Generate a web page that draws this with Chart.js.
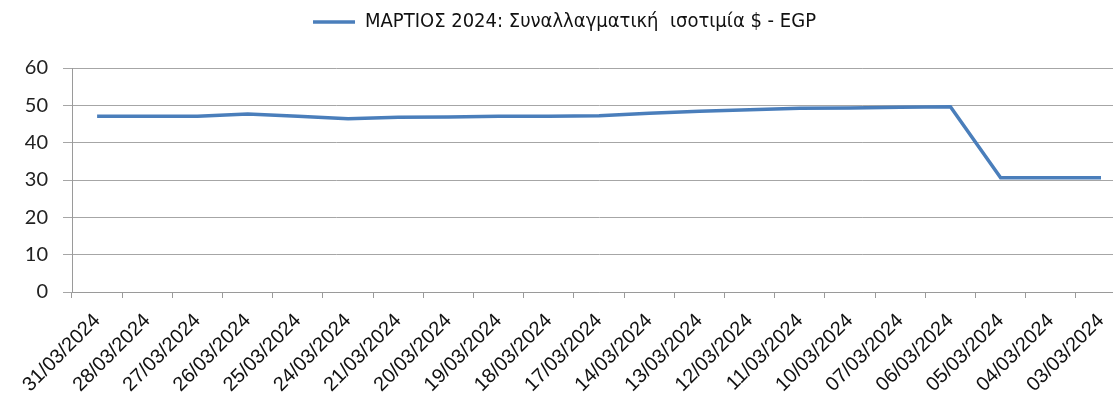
<!DOCTYPE html>
<html>
<head>
<meta charset="utf-8">
<script src="https://cdn.jsdelivr.net/npm/chart.js@4"></script>
<style>
  html, body { margin: 0; padding: 0; background: #fff; overflow: hidden; }
  #wrap { position: relative; width: 1129px; height: 404px; }
</style>
</head>
<body>
<div id="wrap"><canvas id="rate-chart"></canvas></div>
<script>
const SERIES_LABEL = 'ΜΑΡΤΙΟΣ 2024: Συναλλαγματική  ισοτιμία $ - EGP';

const dates = [
  '31/03/2024','28/03/2024','27/03/2024','26/03/2024','25/03/2024','24/03/2024','21/03/2024',
  '20/03/2024','19/03/2024','18/03/2024','17/03/2024','14/03/2024','13/03/2024','12/03/2024',
  '11/03/2024','10/03/2024','07/03/2024','06/03/2024','05/03/2024','04/03/2024','03/03/2024'
];

const rates = [
  47.1, 47.1, 47.1, 47.7, 47.1, 46.4, 46.8,
  46.9, 47.1, 47.1, 47.2, 47.9, 48.4, 48.8,
  49.2, 49.3, 49.5, 49.6, 30.6, 30.6, 30.6
];

const yTicks = [0, 10, 20, 30, 40, 50, 60];

const LINE_BLUE = '#4a7ebb';
const GRID_GREY = '#a6a6a6';
const AXIS_GREY = '#9a9a9a';

// give the legend some extra room underneath so the plot starts lower
const legendGap = {
  id: 'legendGap',
  beforeInit(chart) {
    const fit = chart.legend.fit;
    chart.legend.fit = function () {
      fit.bind(chart.legend)();
      this.height += 26;
    };
  }
};

new Chart(document.getElementById('rate-chart'), {
  type: 'line',
  data: {
    labels: dates,
    datasets: [{
      label: SERIES_LABEL,
      data: rates,
      borderColor: LINE_BLUE,
      backgroundColor: LINE_BLUE,
      borderWidth: 3.5,
      pointRadius: 0,
      tension: 0,
      fill: false
    }]
  },
  options: {
    responsive: true,
    maintainAspectRatio: false,
    animation: false,
    layout: { padding: { top: 2, left: 0, right: 0, bottom: 0 } },
    plugins: {
      legend: {
        position: 'top',
        labels: {
          usePointStyle: true,
          pointStyle: 'line',
          pointStyleWidth: 42,
          color: '#111',
          padding: 10,
          font: { family: '"Liberation Sans Narrow", "DejaVu Sans Condensed", Roboto, sans-serif', size: 20 }
        }
      },
      tooltip: { enabled: false }
    },
    scales: {
      x: {
        offset: true,
        grid: { offset: true, drawOnChartArea: false, drawTicks: true, tickLength: 6, color: AXIS_GREY },
        border: { color: AXIS_GREY },
        ticks: {
          minRotation: 45,
          maxRotation: 45,
          autoSkip: false,
          padding: 11,
          color: '#111',
          font: { family: '"Liberation Sans", Arial, sans-serif', size: 20 }
        },
        afterFit: s => { s.height = 112; }
      },
      y: {
        min: 0,
        max: 60,
        afterBuildTicks: s => { s.ticks = yTicks.map(v => ({ value: v })); },
        grid: { color: GRID_GREY, tickLength: 9 },
        border: { color: AXIS_GREY },
        ticks: {
          padding: 15,
          color: '#222',
          font: { family: 'Lato, "Liberation Sans", sans-serif', size: 20 }
        },
        afterFit: s => { s.width = 72; }
      }
    }
  },
  plugins: [legendGap]
});
</script>
</body>
</html>
